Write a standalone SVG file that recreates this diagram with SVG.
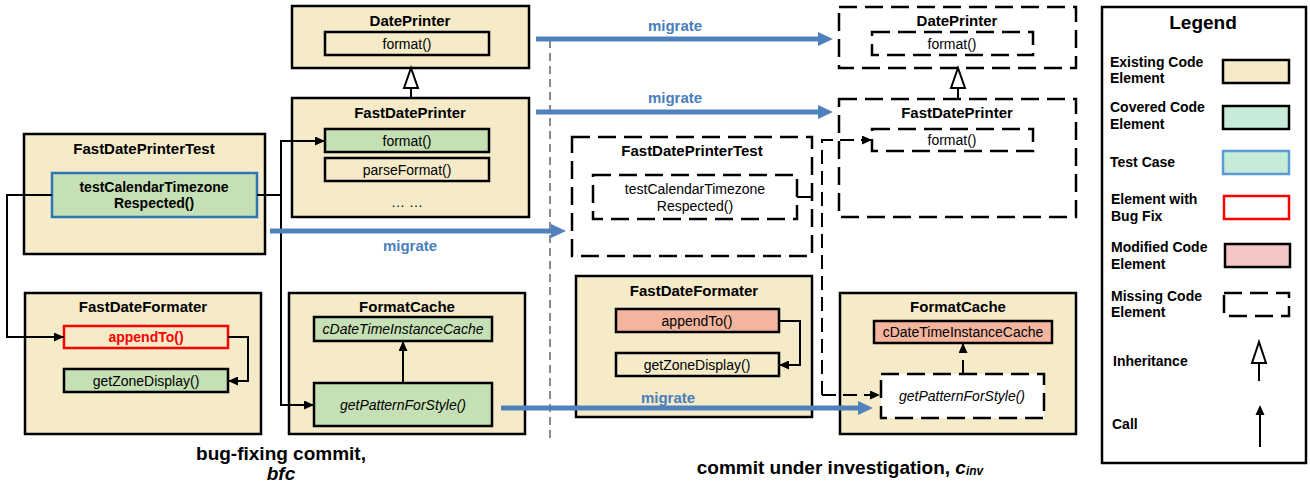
<svg xmlns="http://www.w3.org/2000/svg" width="1310" height="489" viewBox="0 0 1310 489">
<style>
text{font-family:"Liberation Sans",Arial,sans-serif;fill:#000;dominant-baseline:central;text-anchor:middle}
.t{font-size:15px;font-weight:bold}
.m{font-size:14px}
.b{font-weight:bold}
.i{font-style:italic}
.box{fill:#F5EBC9;stroke:#000;stroke-width:2.5}
.dbox{fill:#fff;stroke:#000;stroke-width:2.5;stroke-dasharray:18 8}
.grn{fill:#C5E0B4;stroke:#000;stroke-width:2.5}
.sal{fill:#F3B59D;stroke:#000;stroke-width:2.5}
.plain{fill:#F5EBC9;stroke:#000;stroke-width:2.5}
.conn{fill:none;stroke:#000;stroke-width:2}
.dconn{fill:none;stroke:#000;stroke-width:2;stroke-dasharray:14 7}
.mig{fill:#4F81BD}
.migt{font-size:15px;font-weight:bold;fill:#4A7EBB}
.lg{font-size:14px;font-weight:bold;text-anchor:start}
</style>
<defs>
<marker id="call" markerUnits="userSpaceOnUse" markerWidth="10" markerHeight="9" refX="10" refY="4.5" orient="auto">
<path d="M0,0 L10,4.5 L0,9 Z" fill="#000"/>
</marker>
</defs>
<rect width="1310" height="489" fill="#fff"/>

<!-- separator -->
<line x1="550" y1="40" x2="550" y2="440" stroke="#666" stroke-width="1.5" stroke-dasharray="8 5"/>

<!-- LEFT SIDE -->
<g id="dp-left">
<rect class="box" x="292" y="6" width="237" height="62"/>
<text class="t" x="410" y="20">DatePrinter</text>
<rect class="plain" x="325" y="32" width="164" height="23"/>
<text class="m" x="407" y="43.5">format()</text>
</g>
<g id="fdp-left">
<rect class="box" x="292" y="98" width="237" height="119"/>
<text class="t" x="410" y="112">FastDatePrinter</text>
<rect class="grn" x="325" y="129" width="164" height="23"/>
<text class="m" x="407" y="140.5">format()</text>
<rect class="plain" x="325" y="158" width="164" height="23"/>
<text class="m" x="407" y="169.5">parseFormat()</text>
<text class="m" x="407" y="202">… …</text>
</g>
<g id="fdpt-left">
<rect class="box" x="24" y="134" width="241" height="120"/>
<text class="t" x="144" y="148">FastDatePrinterTest</text>
<rect x="52" y="173" width="205" height="44" fill="#C5E0B4" stroke="#2E75B6" stroke-width="2.5"/>
<text class="m b" x="154" y="187">testCalendarTimezone</text>
<text class="m b" x="154" y="203">Respected()</text>
</g>
<g id="fdf-left">
<rect class="box" x="25" y="293" width="236" height="141"/>
<text class="t" x="143" y="306">FastDateFormater</text>
<rect x="64" y="326" width="164" height="22" fill="#F5EBC9" stroke="#FF0000" stroke-width="2.5"/>
<text class="m b" x="146" y="337" style="fill:#FF0000">appendTo()</text>
<rect class="grn" x="64" y="369" width="164" height="23"/>
<text class="m" x="146" y="380.5">getZoneDisplay()</text>
</g>
<g id="fc-left">
<rect class="box" x="289" y="293" width="236" height="141"/>
<text class="t" x="407" y="306">FormatCache</text>
<rect class="grn" x="314" y="317" width="178" height="24"/>
<text class="m i" x="403" y="329">cDateTimeInstanceCache</text>
<rect class="grn" x="314" y="383" width="178" height="43"/>
<text class="m i" x="403" y="405">getPatternForStyle()</text>
</g>

<!-- RIGHT SIDE -->
<g id="dp-right">
<rect class="dbox" x="839" y="7" width="237" height="61"/>
<text class="t" x="957" y="20">DatePrinter</text>
<rect class="dbox" x="872" y="32" width="161" height="23"/>
<text class="m" x="952" y="43.5">format()</text>
</g>
<g id="fdp-right">
<rect class="dbox" x="839" y="99" width="237" height="118"/>
<text class="t" x="957" y="112">FastDatePrinter</text>
<rect class="dbox" x="872" y="129" width="161" height="22"/>
<text class="m" x="952" y="140">format()</text>
</g>
<g id="fdpt-right">
<rect class="dbox" x="572" y="137" width="240" height="119"/>
<text class="t" x="692" y="150">FastDatePrinterTest</text>
<rect class="dbox" x="593" y="175" width="204" height="44"/>
<text class="m" x="695" y="189">testCalendarTimezone</text>
<text class="m" x="695" y="206">Respected()</text>
</g>
<g id="fdf-right">
<rect class="box" x="576" y="276" width="236" height="141"/>
<text class="t" x="694" y="290">FastDateFormater</text>
<rect class="sal" x="616" y="309" width="163" height="23"/>
<text class="m" x="697" y="320.5">appendTo()</text>
<rect class="plain" x="616" y="353" width="163" height="23"/>
<text class="m" x="697" y="364.5">getZoneDisplay()</text>
</g>
<g id="fc-right">
<rect class="box" x="840" y="293" width="236" height="141"/>
<text class="t" x="958" y="306">FormatCache</text>
<rect class="sal" x="874" y="321" width="178" height="22"/>
<text class="m" x="963" y="332">cDateTimeInstanceCache</text>
<rect class="dbox" x="881" y="374" width="163" height="44"/>
<text class="m i" x="962" y="396">getPatternForStyle()</text>
</g>

<!-- CONNECTORS -->
<g id="connectors">
<!-- inheritance -->
<line class="conn" x1="411" y1="88" x2="411" y2="98"/>
<polygon points="411,68 404,88 418,88" fill="#fff" stroke="#000" stroke-width="2"/>
<line class="conn" x1="958" y1="88" x2="958" y2="99"/>
<polygon points="958,68 951,88 965,88" fill="#fff" stroke="#000" stroke-width="2"/>
<!-- left calls -->
<path class="conn" d="M52,195 H7 V337 H64" marker-end="url(#call)"/>
<path class="conn" d="M257,195 H281 V141 H325" marker-end="url(#call)"/>
<path class="conn" d="M281,195 V405 H314" marker-end="url(#call)"/>
<path class="conn" d="M228,337 H248 V381 H228" marker-end="url(#call)"/>
<path class="conn" d="M403,383 V341" marker-end="url(#call)"/>
<!-- right calls -->
<path class="conn" d="M797,197 H812"/>
<path class="dconn" d="M822,395 V140 H872" marker-end="url(#call)"/>
<path class="dconn" d="M822,395 H880" marker-end="url(#call)"/>
<path class="conn" d="M779,321 H800 V365 H779" marker-end="url(#call)"/>
<path class="dconn" d="M963,374 V343" stroke-dasharray="8 4" marker-end="url(#call)"/>
<!-- migrate arrows -->
<path class="mig" d="M536,36.5 H818 V32 L833,39 L818,46 V41.5 H536 Z"/>
<path class="mig" d="M536,109.5 H818 V105 L833,112 L818,119 V114.5 H536 Z"/>
<path class="mig" d="M270,228.5 H551 V224 L566,231 L551,238 V233.5 H270 Z"/>
<path class="mig" d="M501,405.5 H858 V401 L873,408 L858,415 V410.5 H501 Z"/>
<text class="migt" x="675" y="25">migrate</text>
<text class="migt" x="675" y="97">migrate</text>
<text class="migt" x="410" y="245">migrate</text>
<text class="migt" x="668" y="397">migrate</text>
</g>

<!-- captions -->
<text x="281" y="453" style="font-size:19px;font-weight:bold">bug-fixing commit,</text>
<text x="281" y="473" style="font-size:19px;font-weight:bold;font-style:italic">bfc</text>
<text x="840" y="467" style="font-size:19px;font-weight:bold">commit under investigation, <tspan style="font-style:italic">c</tspan><tspan style="font-style:italic;font-size:12px" dy="4">inv</tspan></text>

<!-- LEGEND -->
<g id="legend">
<rect x="1102" y="7" width="204" height="456" fill="#fff" stroke="#000" stroke-width="2.5"/>
<text x="1203" y="22" style="font-size:19px;font-weight:bold">Legend</text>
<text class="lg" x="1110" y="62">Existing Code</text>
<text class="lg" x="1110" y="78">Element</text>
<rect x="1223" y="60" width="66" height="23" fill="#F5EBC9" stroke="#000" stroke-width="2.5"/>
<text class="lg" x="1110" y="107">Covered Code</text>
<text class="lg" x="1110" y="124">Element</text>
<rect x="1223" y="106" width="66" height="23" fill="#C7EBD9" stroke="#000" stroke-width="2.5"/>
<text class="lg" x="1110" y="162">Test Case</text>
<rect x="1223" y="151" width="66" height="23" fill="#C7EBD9" stroke="#5B9BD5" stroke-width="2.5"/>
<text class="lg" x="1111" y="199">Element with</text>
<text class="lg" x="1111" y="216">Bug Fix</text>
<rect x="1224" y="196" width="65" height="23" fill="#fff" stroke="#FF0000" stroke-width="2.5"/>
<text class="lg" x="1111" y="247">Modified Code</text>
<text class="lg" x="1111" y="264">Element</text>
<rect x="1225" y="244" width="65" height="23" fill="#F5C6C6" stroke="#000" stroke-width="2.5"/>
<text class="lg" x="1111" y="296">Missing Code</text>
<text class="lg" x="1111" y="312">Element</text>
<rect x="1224" y="293" width="65" height="23" fill="#fff" stroke="#000" stroke-width="2.5" stroke-dasharray="18 8"/>
<text class="lg" x="1113" y="361">Inheritance</text>
<line x1="1259" y1="363" x2="1259" y2="381" stroke="#000" stroke-width="2"/>
<polygon points="1259,342 1252,363 1266,363" fill="#fff" stroke="#000" stroke-width="2"/>
<text class="lg" x="1112" y="424">Call</text>
<line x1="1260" y1="447" x2="1260" y2="414" stroke="#000" stroke-width="2"/>
<polygon points="1260,405 1255.5,415 1264.5,415" fill="#000"/>
</g>
</svg>
